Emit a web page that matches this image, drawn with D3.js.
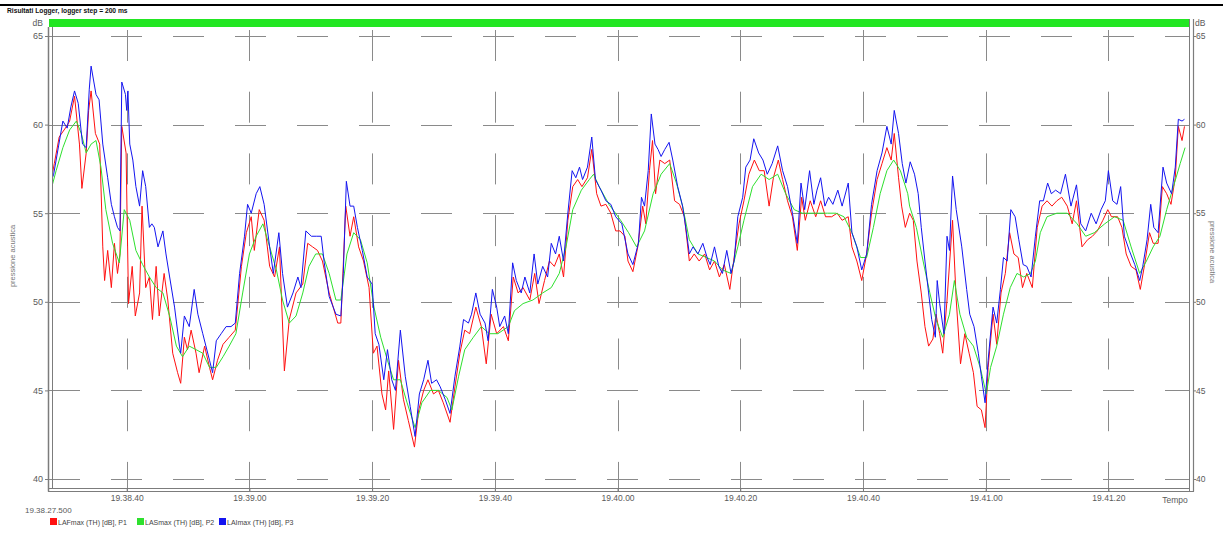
<!DOCTYPE html>
<html>
<head>
<meta charset="utf-8">
<script src="https://cdn.jsdelivr.net/npm/d3@7"></script>
<style>
  html, body { margin: 0; padding: 0; background: #fff; }
  svg { display: block; font-family: "Liberation Sans", Arial, sans-serif; }
</style>
</head>
<body>
<svg id="chart" width="1223" height="535"></svg>
<script>
// ---- logger data: [seconds after start, dB] ----
const startClock = "19:38:27.500";
const spanSeconds = 185.8;
const yTicks = [40, 45, 50, 55, 60, 65];
const xTickClocks = ["19:38:40", "19:39:00", "19:39:20", "19:39:40", "19:40:00",
                     "19:40:20", "19:40:40", "19:41:00", "19:41:20"];
const seriesNames = ["LAFmax (TH) [dB], P1", "LASmax (TH) [dB], P2", "LAImax (TH) [dB], P3"];

const lafmax = [
  [0,56.5],[0.7,57.8],[1.5,59.3],[2.7,59.9],[3.2,60.2],[4.0,61.6],[4.8,58.9],[5.2,56.4],[5.9,58.4],[6.3,60.8],
  [6.7,61.9],[7.4,59.5],[8.1,58.9],[8.6,53.1],[8.9,51.2],[9.4,52.9],[10.0,50.8],[10.5,53.3],[11.0,51.6],[11.4,52.7],
  [11.7,59.9],[12.4,58.4],[12.8,49.9],[13.4,52.0],[13.9,49.2],[14.6,50.5],[15.0,55.4],[15.6,50.8],[16.2,51.4],[16.7,49.0],
  [17.3,52.0],[17.8,49.2],[18.6,51.6],[19.2,50.1],[20.0,47.1],[20.8,46.0],[21.3,45.4],[21.9,48.0],[22.4,47.3],[23.0,48.4],
  [23.8,47.1],[24.3,46.0],[25.2,47.5],[26.0,46.3],[26.5,45.6],[27.3,46.7],[28.2,47.6],[29.2,48.0],[30.2,48.4],[31.2,52.0],
  [32.0,53.9],[32.8,54.8],[33.3,52.9],[34.1,55.2],[34.9,54.6],[35.8,52.0],[36.6,51.4],[37.4,53.1],[38.2,46.1],[39.0,49.0],
  [40.1,50.5],[41.2,51.0],[42.0,53.3],[42.8,53.1],[43.6,52.9],[44.4,52.3],[45.5,50.5],[46.9,48.8],[47.4,48.8],[48.2,55.4],
  [48.9,53.7],[49.5,54.8],[50.3,53.1],[51.1,52.3],[52.0,50.8],[52.7,47.1],[53.3,47.5],[54.1,44.8],[54.7,43.9],[55.2,46.1],
  [56.0,42.8],[56.8,46.7],[57.6,44.5],[58.4,43.3],[59.4,41.8],[60.1,43.9],[60.9,45.0],[61.6,45.6],[62.5,44.8],[63.3,45.0],
  [64.1,44.3],[65.2,43.2],[66.0,45.2],[66.8,47.1],[67.6,48.4],[68.4,48.2],[69.4,49.7],[70.3,48.6],[71.1,46.5],[71.9,49.3],
  [72.8,48.2],[73.9,48.6],[74.7,47.8],[75.5,51.4],[76.3,50.5],[77.1,50.8],[78.2,50.1],[79.0,51.6],[79.7,49.9],[80.6,51.2],
  [81.4,52.3],[82.2,52.0],[83.0,52.7],[83.7,51.4],[84.4,54.6],[85.2,56.5],[86.0,56.9],[86.7,56.5],[87.6,57.0],[88.3,58.6],
  [89.1,56.1],[89.8,55.4],[90.6,55.5],[91.4,55.0],[92.2,54.0],[92.9,54.0],[93.7,53.7],[94.2,52.3],[95.0,51.7],[95.8,53.1],
  [96.6,55.4],[97.1,54.4],[97.7,57.4],[98.2,59.1],[98.7,56.1],[99.4,58.0],[100.2,57.8],[101.0,58.0],[101.8,55.7],[102.6,55.5],
  [103.4,54.8],[104.2,52.3],[105.0,52.7],[105.8,52.3],[106.7,52.7],[107.5,51.8],[108.3,52.3],[109.1,51.4],[109.9,52.1],[110.8,50.7],
  [111.5,52.5],[112.3,54.4],[113.1,55.7],[113.9,57.2],[114.8,58.0],[115.6,57.4],[116.4,57.4],[117.2,55.4],[117.9,57.0],[118.7,58.0],
  [119.4,56.9],[120.2,55.7],[121.0,54.8],[121.8,52.9],[122.5,55.9],[123.1,54.6],[123.9,55.7],[124.8,54.8],[125.6,55.7],[126.4,54.8],
  [127.4,54.8],[128.3,55.0],[129.1,54.6],[130.1,54.8],[130.7,53.1],[131.5,52.3],[132.3,51.2],[133.1,52.7],[133.9,55.0],[134.8,56.9],
  [135.6,57.8],[136.4,58.7],[137.1,58.0],[137.6,59.5],[138.3,57.0],[138.8,55.4],[139.4,54.2],[140.1,55.0],[140.7,54.6],[141.3,52.3],
  [142.0,50.5],[142.6,48.6],[143.2,47.5],[143.9,47.9],[144.4,49.3],[145.0,48.2],[145.5,47.1],[146.2,50.1],[147.1,54.6],[147.7,50.1],
  [148.4,46.5],[149.1,48.2],[149.8,47.1],[150.5,46.0],[151.1,44.1],[151.8,43.9],[152.4,42.9],[152.9,46.3],[153.7,49.3],[154.3,47.6],
  [155.0,50.5],[155.7,51.6],[156.4,53.9],[157.1,52.7],[157.8,52.5],[158.5,50.8],[159.2,51.6],[160.1,50.8],[160.9,54.2],[161.7,55.4],
  [162.5,55.7],[163.3,55.4],[164.1,55.7],[164.9,55.9],[165.8,55.4],[166.6,54.4],[167.3,55.7],[168.2,53.1],[169.1,53.5],[169.9,53.7],
  [170.7,54.0],[171.6,54.6],[172.4,55.2],[173.0,54.8],[174.0,54.8],[174.7,54.2],[175.4,52.7],[176.2,52.0],[177.0,51.8],[177.7,50.7],
  [178.4,52.1],[179.2,53.9],[179.8,53.3],[180.6,53.3],[181.3,56.5],[182.0,56.1],[182.7,55.5],[183.4,57.0],[183.9,59.9],[184.5,59.1],
  [184.9,59.9]
];

const lasmax = [
  [0,56.1],[1.0,57.4],[2.1,58.7],[3.2,59.7],[4.3,60.2],[5.1,59.5],[5.9,58.4],[6.7,58.9],[7.5,59.1],[8.3,57.6],
  [9.1,55.2],[10.2,53.3],[11.3,52.2],[12.1,55.2],[13.0,54.6],[14.0,52.9],[15.1,52.1],[16.2,51.4],[17.3,50.8],[18.4,50.5],
  [19.5,49.2],[20.6,47.5],[21.6,46.9],[22.7,47.5],[23.8,47.3],[24.9,47.1],[26.0,46.3],[27.1,46.3],[28.2,46.9],[29.2,47.5],
  [30.3,48.2],[31.4,50.5],[32.5,52.7],[33.6,53.7],[34.7,54.4],[35.8,53.1],[36.9,51.8],[37.9,50.1],[39.0,48.8],[40.1,49.2],
  [41.2,50.5],[42.2,52.0],[43.3,52.7],[44.4,52.7],[45.5,51.6],[46.6,50.1],[47.4,50.1],[48.4,52.7],[49.5,53.9],[50.6,53.5],
  [51.7,52.2],[52.8,49.7],[53.9,48.0],[55.0,46.7],[56.0,45.6],[57.1,45.6],[58.2,44.3],[59.5,42.9],[60.6,44.3],[62.0,45.0],
  [63.3,45.0],[64.7,44.6],[65.5,43.9],[66.6,45.8],[67.6,47.3],[69.0,48.0],[70.3,48.6],[71.6,48.2],[73.0,48.2],[74.7,48.6],
  [75.7,49.5],[77.1,49.9],[78.7,50.1],[80.3,50.5],[81.7,50.8],[83.0,51.6],[84.1,53.1],[85.2,55.2],[86.6,56.3],[87.9,56.9],
  [88.6,57.2],[89.5,56.5],[91.1,55.5],[93.0,54.6],[94.3,53.9],[95.6,53.1],[96.9,54.0],[98.3,56.1],[99.6,57.2],[101.0,57.8],
  [102.1,56.7],[103.1,55.4],[104.2,53.5],[105.6,52.7],[107.0,52.5],[108.3,52.3],[109.6,51.8],[111.0,51.6],[112.1,53.1],[113.1,54.6],
  [114.5,56.5],[115.9,57.2],[117.2,56.9],[118.6,57.2],[119.9,56.1],[121.3,55.2],[122.6,55.0],[124.0,55.0],[125.3,55.0],[126.7,55.0],
  [128.1,55.0],[129.4,54.8],[130.7,53.9],[132.1,52.5],[133.1,52.5],[134.2,54.2],[135.3,56.1],[136.4,57.4],[137.5,58.0],[138.6,57.4],
  [139.8,56.1],[140.1,55.4],[141.2,54.2],[142.3,52.3],[143.4,50.5],[144.4,49.0],[145.5,48.0],[146.6,49.3],[147.4,51.2],[148.3,49.3],
  [149.4,48.0],[150.5,47.5],[151.6,46.3],[152.6,44.8],[153.3,46.3],[154.3,47.5],[155.4,49.3],[156.5,50.8],[157.6,51.6],[158.7,51.4],
  [159.8,51.6],[160.6,52.3],[161.4,53.9],[162.5,54.8],[164.1,55.0],[165.8,55.0],[167.4,54.4],[168.8,53.7],[170.2,53.9],[171.9,54.4],
  [173.5,54.8],[174.9,54.6],[176.2,53.1],[177.6,51.6],[178.7,52.3],[179.8,53.1],[180.9,53.7],[182.0,55.2],[183.1,56.5],[184.2,57.8],
  [185.0,58.7]
];

const laimax = [
  [0,56.6],[0.6,57.2],[1.4,58.8],[2.1,60.2],[2.8,59.8],[3.4,61.0],[4.0,61.9],[4.6,61.2],[5.3,58.9],[5.9,58.7],
  [6.4,62.0],[6.7,63.3],[7.5,61.7],[8.0,61.4],[8.6,58.9],[9.4,57.0],[10.0,55.5],[10.5,54.8],[11.0,54.2],[11.4,54.0],
  [11.7,62.4],[12.3,61.7],[12.5,60.8],[12.7,61.9],[13.0,58.9],[13.5,58.0],[14.0,56.5],[14.6,55.4],[15.1,57.4],[15.6,56.5],
  [16.2,54.2],[16.6,54.4],[17.0,54.2],[17.6,53.1],[18.4,54.0],[18.9,52.7],[19.5,51.4],[20.3,49.7],[21.1,47.5],[21.3,47.1],
  [21.9,49.2],[22.7,48.6],[23.5,50.7],[24.1,49.3],[24.9,48.2],[26.0,46.7],[26.5,46.0],[27.1,47.8],[27.9,48.2],[28.7,48.6],
  [29.5,48.6],[30.2,48.8],[30.9,51.6],[31.7,53.7],[32.2,55.5],[32.8,55.0],[33.6,56.1],[34.2,56.5],[34.9,55.5],[35.8,53.1],
  [36.4,51.6],[37.3,53.9],[37.9,51.6],[38.7,49.7],[39.6,50.5],[40.4,51.4],[40.9,50.8],[41.7,54.0],[42.6,53.7],[43.4,53.7],
  [44.2,53.7],[44.7,52.2],[45.5,50.3],[46.6,49.3],[47.4,49.2],[47.8,51.6],[48.3,56.8],[48.9,55.4],[49.5,55.4],[50.1,54.2],
  [50.9,52.9],[51.7,51.4],[52.5,51.0],[53.0,48.2],[53.6,47.6],[54.4,45.6],[55.0,47.3],[55.7,45.6],[56.3,45.0],[57.1,48.4],
  [57.9,45.8],[58.7,44.1],[59.5,42.4],[60.2,44.8],[60.9,45.6],[61.6,46.7],[62.2,45.4],[63.0,45.6],[63.6,45.2],[64.4,44.5],
  [65.2,43.7],[66.0,45.8],[66.8,47.5],[67.4,49.0],[68.2,48.8],[68.7,49.3],[69.4,50.5],[70.1,49.3],[70.9,48.8],[71.4,47.8],
  [72.1,50.7],[72.8,49.7],[73.3,48.6],[74.1,49.2],[74.7,48.2],[75.4,52.2],[76.0,51.2],[76.8,50.5],[77.4,51.4],[78.2,50.5],
  [78.9,52.7],[79.5,51.0],[80.3,52.0],[81.1,51.4],[81.7,53.3],[82.4,52.7],[83.0,53.7],[83.7,52.3],[84.4,55.0],[85.1,57.4],
  [85.7,57.0],[86.3,57.6],[86.8,56.9],[87.6,57.6],[88.3,59.3],[88.9,56.9],[89.8,56.3],[90.6,55.7],[91.4,55.5],[92.2,54.8],
  [93.2,54.4],[94.2,52.7],[95.0,52.1],[95.9,53.3],[96.4,55.9],[96.9,55.4],[97.5,57.4],[98.0,60.6],[98.6,58.9],[99.1,58.6],
  [99.6,58.2],[100.2,58.6],[100.9,59.0],[101.5,58.0],[102.3,56.5],[103.1,55.4],[103.7,54.0],[104.2,52.7],[104.8,53.1],[105.6,52.7],
  [106.4,53.3],[107.1,52.5],[107.6,52.1],[108.3,53.1],[109.0,52.0],[109.6,51.6],[110.3,52.9],[111.0,51.6],[111.5,52.3],[112.1,54.8],
  [112.9,55.9],[113.4,57.6],[114.1,58.0],[114.7,59.2],[115.5,58.4],[116.2,58.0],[116.9,57.2],[117.7,57.8],[118.6,58.8],[119.4,57.4],
  [120.2,56.5],[121.0,55.0],[121.8,53.3],[122.4,56.7],[123.0,55.2],[123.8,57.4],[124.5,55.5],[125.0,56.3],[125.6,57.0],[126.3,55.4],
  [126.9,55.9],[127.6,55.5],[128.4,56.3],[129.1,55.4],[130.1,56.7],[130.7,53.9],[131.5,53.1],[132.3,51.8],[133.1,52.7],[133.9,55.5],
  [134.8,57.4],[135.6,58.4],[136.4,59.9],[137.1,58.9],[137.6,60.8],[138.3,59.5],[138.9,57.8],[139.5,56.7],[140.2,57.9],[140.9,57.2],
  [141.5,56.1],[142.0,54.2],[142.6,52.3],[143.2,50.5],[143.7,49.0],[144.3,48.0],[144.6,51.2],[145.0,49.9],[145.7,48.2],[146.2,53.7],
  [146.6,52.9],[147.1,57.1],[147.7,55.2],[148.6,53.1],[149.4,50.7],[149.9,49.3],[150.6,48.6],[151.3,47.1],[151.8,45.8],[152.4,44.3],
  [152.9,46.7],[153.7,49.7],[154.3,48.8],[154.9,50.7],[155.4,52.5],[156.0,52.3],[156.6,55.2],[157.3,54.8],[157.9,53.5],[158.6,52.1],
  [159.2,52.0],[159.9,51.4],[160.6,53.7],[161.3,55.7],[161.9,55.7],[162.6,56.7],[163.2,56.1],[163.9,56.3],[164.7,56.1],[165.5,57.2],
  [166.4,55.4],[167.3,56.6],[168.0,54.4],[168.8,54.0],[169.7,55.0],[170.5,54.4],[171.3,55.2],[172.0,55.7],[172.5,57.4],[173.2,55.7],
  [173.9,55.5],[174.5,56.5],[175.1,53.7],[175.9,52.9],[176.8,52.1],[177.6,51.2],[178.1,52.0],[178.8,53.5],[179.4,55.5],[179.9,54.2],
  [180.6,53.9],[181.4,57.6],[182.0,56.7],[182.8,56.1],[183.4,57.6],[183.9,60.3],[184.5,60.2],[184.9,60.3]
];

const seriesColors = ["#ff1010", "#2ee02e", "#1414f0"];

// ---- helpers ----
function parseClock(s) {
  const [h, m, rest] = s.split(":");
  const sec = parseFloat(rest);
  return new Date(2000, 0, 1, +h, +m, Math.floor(sec), Math.round((sec % 1) * 1000));
}
const t0 = parseClock(startClock);
const atSeconds = s => new Date(t0.getTime() + s * 1000);

// ---- layout ----
const svg = d3.select("#chart");
const W = 1223;
const plot = { left: 52, right: 1189, top: 27, bottom: 488 };

const x = d3.scaleTime().domain([t0, atSeconds(spanSeconds)]).range([50, 1190]);
const y = d3.scaleLinear().domain([40, 65]).range([479, 36]);

const gridColor = "#8a8a8a";
const axisColor = "#7c7c7c";
const textColor = "#5a5a5a";

// header rule and title
svg.append("rect").attr("x", 0).attr("y", 4).attr("width", W).attr("height", 2).attr("fill", "#000");
svg.append("text").attr("x", 7).attr("y", 12.5)
  .attr("font-size", 6.7).attr("font-weight", "bold").attr("fill", "#111")
  .text("Risultati Logger, logger step = 200 ms");

// green band above the plot
svg.append("rect").attr("x", 49).attr("y", 19).attr("width", 1141).attr("height", 8).attr("fill", "#22e622");

// unit labels
svg.append("text").attr("x", 43).attr("y", 26).attr("text-anchor", "end")
  .attr("font-size", 8.5).attr("fill", textColor).text("dB");
svg.append("text").attr("x", 1195).attr("y", 26)
  .attr("font-size", 8.5).attr("fill", textColor).text("dB");

// grid
const grid = svg.append("g");
grid.selectAll("line.h").data(yTicks).join("line")
  .attr("x1", 49).attr("x2", 1189)
  .attr("y1", d => Math.round(y(d)) + 0.5).attr("y2", d => Math.round(y(d)) + 0.5)
  .attr("stroke", gridColor).attr("stroke-width", 1).attr("stroke-dasharray", "31,31");
const xTickDates = xTickClocks.map(parseClock);
grid.selectAll("line.v").data(xTickDates).join("line")
  .attr("x1", d => Math.round(x(d)) + 0.5).attr("x2", d => Math.round(x(d)) + 0.5)
  .attr("y1", 30).attr("y2", 492)
  .attr("stroke", gridColor).attr("stroke-width", 1).attr("stroke-dasharray", "31,30.7");

// series
svg.append("clipPath").attr("id", "plotclip").append("rect")
  .attr("x", plot.left).attr("y", plot.top).attr("width", plot.right - plot.left).attr("height", plot.bottom - plot.top);
const line = d3.line().x(d => x(atSeconds(d[0]))).y(d => y(d[1]));
const series = [lafmax, lasmax, laimax];
svg.append("g").attr("clip-path", "url(#plotclip)")
  .selectAll("path").data(series).join("path")
  .attr("d", line).attr("fill", "none")
  .attr("stroke", (d, i) => seriesColors[i]).attr("stroke-width", 1)
  .attr("stroke-linejoin", "miter");

// frame: double lines on left, bottom and right
const frame = svg.append("g").attr("stroke", axisColor).attr("fill", "none");
frame.append("line").attr("x1", 48.5).attr("x2", 48.5).attr("y1", 27).attr("y2", 491.5).attr("stroke-width", 1.5);
frame.append("line").attr("x1", 52.5).attr("x2", 52.5).attr("y1", 27).attr("y2", 488.5);
frame.append("line").attr("x1", 48).attr("x2", 1190).attr("y1", 488.5).attr("y2", 488.5);
frame.append("line").attr("x1", 48).attr("x2", 1194).attr("y1", 491.5).attr("y2", 491.5).attr("stroke-width", 1.2);
frame.append("line").attr("x1", 1189.5).attr("x2", 1189.5).attr("y1", 19).attr("y2", 491.5);
frame.append("line").attr("x1", 1193.5).attr("x2", 1193.5).attr("y1", 19).attr("y2", 491.5).attr("stroke-width", 1.2);

// axes
function styleAxis(g) {
  g.select(".domain").remove();
  g.selectAll(".tick line").attr("stroke", axisColor);
  g.selectAll(".tick text").attr("fill", textColor).attr("font-family", "Liberation Sans, Arial, sans-serif");
}
svg.append("g").attr("transform", "translate(48,0)")
  .call(d3.axisLeft(y).tickValues(yTicks).tickSize(3).tickPadding(2).tickFormat(d3.format("d")))
  .call(styleAxis)
  .call(g => g.selectAll(".tick text").attr("font-size", 9));
svg.append("g").attr("transform", "translate(1193,0)")
  .call(d3.axisRight(y).tickValues(yTicks).tickSize(3).tickPadding(0).tickFormat(d3.format("d")))
  .call(styleAxis)
  .call(g => g.selectAll(".tick text").attr("font-size", 8.5));
svg.append("g").attr("transform", "translate(0,488)")
  .call(d3.axisBottom(x).tickValues(xTickDates).tickSize(4).tickPadding(3).tickFormat(d3.timeFormat("%H.%M.%S")))
  .call(styleAxis)
  .call(g => g.selectAll(".tick text").attr("font-size", 8.5));

svg.append("text").attr("x", 1175).attr("y", 503).attr("text-anchor", "middle")
  .attr("font-size", 8.5).attr("fill", textColor).text("Tempo");
svg.append("text").attr("x", 25).attr("y", 513)
  .attr("font-size", 8).attr("fill", textColor).text(startClock.replace(/:/g, "."));

// axis titles
svg.append("text").attr("transform", "translate(15,256) rotate(-90)").attr("text-anchor", "middle")
  .attr("font-size", 7.5).attr("fill", "#777").text("pressione acustica");
svg.append("text").attr("transform", "translate(1210,252) rotate(90)").attr("text-anchor", "middle")
  .attr("font-size", 7.5).attr("fill", "#777").text("pressione acustica");

// legend
const legend = svg.append("g").attr("transform", "translate(50,518)");
const legendX = [0, 87, 169];
seriesNames.forEach((name, i) => {
  const g = legend.append("g").attr("transform", `translate(${legendX[i]},0)`);
  g.append("rect").attr("width", 7).attr("height", 7).attr("fill", seriesColors[i]);
  g.append("text").attr("x", 8).attr("y", 7).attr("font-size", 7).attr("fill", "#444").text(name);
});
</script>
</body>
</html>
